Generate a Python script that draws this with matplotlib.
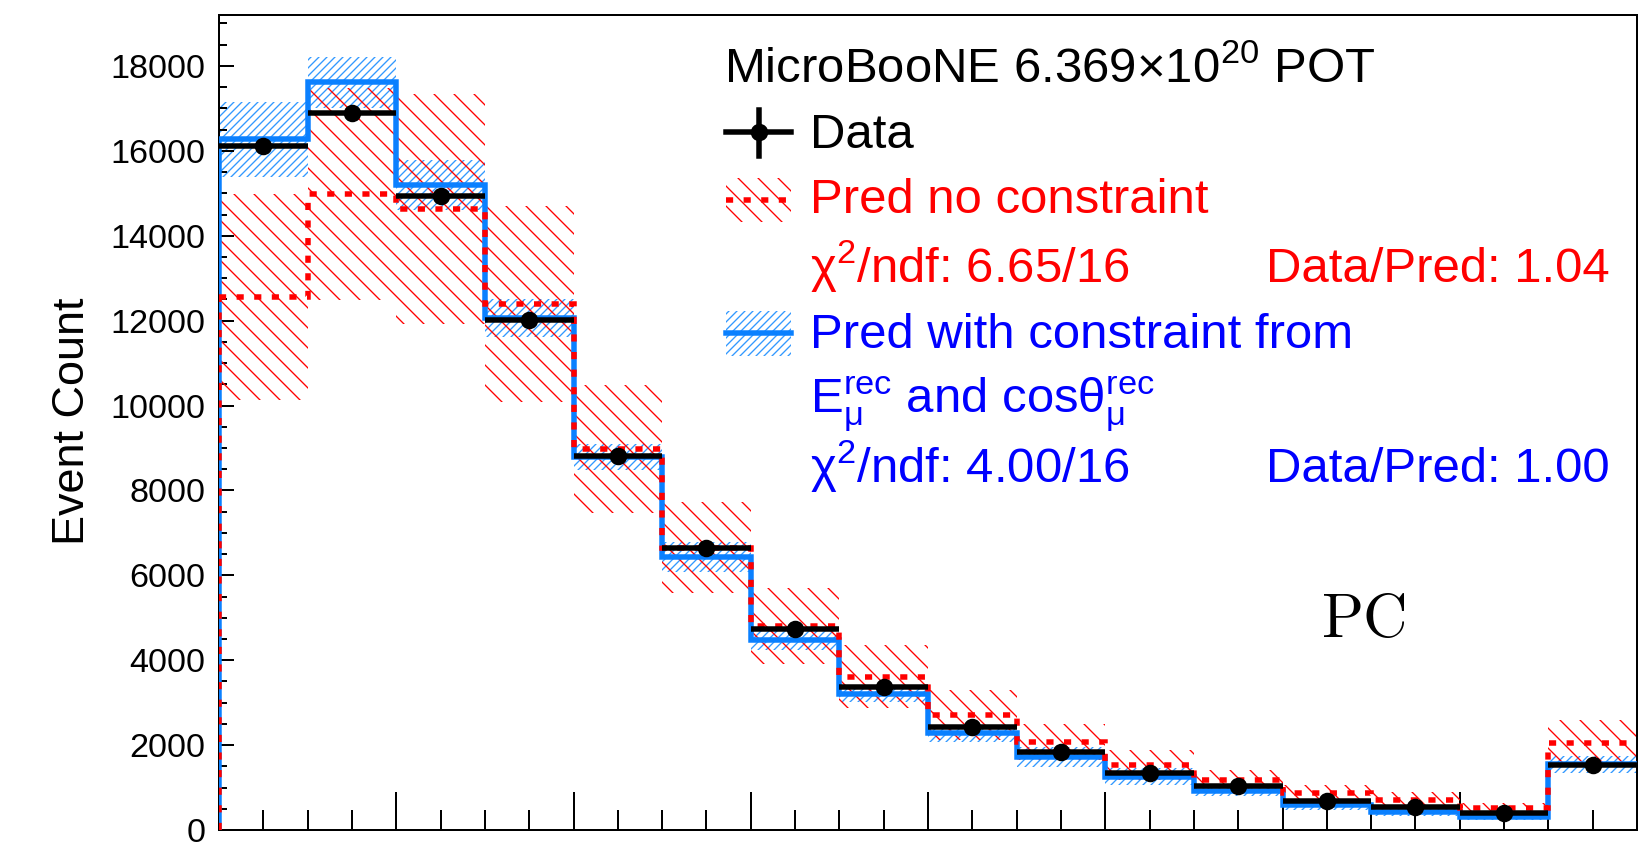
import numpy as np
import matplotlib
matplotlib.use('Agg')
import matplotlib.pyplot as plt
from matplotlib.lines import Line2D
from matplotlib.patches import Rectangle
from matplotlib.ticker import MultipleLocator

# ---------------- data (16 bins) ----------------
bin_edges = list(range(17))
data = [16120, 16880, 14930, 12020, 8800, 6650, 4745, 3375, 2435, 1845, 1350, 1030, 690, 550, 410, 1530]
data_err = [127, 130, 122, 110, 94, 82, 69, 58, 49, 43, 37, 32, 26, 23, 20, 39]
pred_nocon = [12550, 14980, 14630, 12390, 8980, 6650, 4800, 3610, 2706, 2078, 1529, 1176, 863, 706, 510, 2055]
pred_nocon_err = [2430, 2500, 2700, 2310, 1510, 1070, 890, 745, 590, 430, 350, 236, 196, 196, 117, 530]
pred_con = [16275, 17610, 15200, 12060, 8790, 6430, 4470, 3215, 2275, 1725, 1255, 920, 590, 430, 315, 1550]
pred_con_err = [880, 610, 590, 450, 310, 350, 240, 200, 200, 235, 200, 125, 120, 110, 90, 200]
yticks = [0, 2000, 4000, 6000, 8000, 10000, 12000, 14000, 16000, 18000]

# ---------------- style ----------------
plt.rcParams['font.family'] = ['Liberation Sans', 'DejaVu Sans']
plt.rcParams['mathtext.fontset'] = 'custom'
plt.rcParams['mathtext.rm'] = 'Liberation Sans'
plt.rcParams['mathtext.it'] = 'Liberation Sans:italic'
plt.rcParams['mathtext.default'] = 'regular'
plt.rcParams['hatch.linewidth'] = 0.8

RED = '#ff0000'
BLUE_LINE = '#0a80ff'
BLUE_HATCH = '#3399ff'
BLUE_TEXT = '#0000ff'

W, H, DPI = 1650, 843, 120
fig = plt.figure(figsize=(W / DPI, H / DPI), dpi=DPI)
ax = fig.add_axes([219 / W, 1 - 830 / H, (1637 - 219) / W, (830 - 15) / H])


def fx(px):
    return px / W


def fy(py):
    return 1 - py / H


edges = np.array(bin_edges, dtype=float)
centers = 0.5 * (edges[:-1] + edges[1:])
widths = np.diff(edges)
d = np.array(data, float)
pn = np.array(pred_nocon, float)
pne = np.array(pred_nocon_err, float)
pc = np.array(pred_con, float)
pce = np.array(pred_con_err, float)

LW = 3.3
MS = 9.5
DASH = (0, (1.3, 1.9))

# uncertainty bands
ax.bar(centers, 2 * pce, bottom=pc - pce, width=widths, fill=False,
       hatch='/////', edgecolor=BLUE_HATCH, linewidth=0, zorder=1)
ax.bar(centers, 2 * pne, bottom=pn - pne, width=widths, fill=False,
       hatch='\\\\', edgecolor=RED, linewidth=0, zorder=2)

# prediction histograms (open on the right, rising from 0 on the left)
ax.stairs(pc, edges, baseline=None, color=BLUE_LINE, lw=LW, zorder=3)
ax.vlines(edges[0], 0, pc[0], color=BLUE_LINE, lw=LW, zorder=3)
ax.stairs(pn, edges, baseline=None, color=RED, lw=LW, ls=DASH, zorder=4)
ax.vlines(edges[0], 0, pn[0], color=RED, lw=LW, linestyles=[DASH], zorder=4)

# data
ax.errorbar(centers, d, xerr=widths / 2, yerr=data_err, fmt='o', color='black',
            ms=MS, elinewidth=LW, capsize=0, zorder=5)

ax.set_xlim(edges[0], edges[-1])
ax.set_ylim(0, 19200)
ax.xaxis.set_major_locator(MultipleLocator(2))
ax.xaxis.set_minor_locator(MultipleLocator(0.5))
ax.set_yticks(yticks)
ax.set_yticklabels([str(v) for v in yticks])
ax.yaxis.set_minor_locator(MultipleLocator(500))
ax.tick_params(axis='x', which='major', direction='in', length=22.8, width=1.2,
               labelbottom=False, top=False)
ax.tick_params(axis='x', which='minor', direction='in', length=12, width=1.2, top=False)
ax.tick_params(axis='y', which='major', direction='in', length=9, width=1.2,
               labelsize=20.5, pad=8, right=False)
ax.tick_params(axis='y', which='minor', direction='in', length=4.8, width=1.2, right=False)
for s in ax.spines.values():
    s.set_linewidth(1.2)

fig.text(fx(72), fy(421), 'Event Count', rotation=90, ha='center', va='center', fontsize=27)

# ---------------- legend (manual, ROOT style) ----------------
FS = 29.5
fig.text(fx(724), fy(82), r'MicroBooNE 6.369$\times$10$^{20}$ POT', fontsize=FS, va='baseline')

# Data entry
fig.add_artist(Line2D([fx(726), fx(791)], [fy(132), fy(132)], color='black', lw=LW,
                      transform=fig.transFigure))
fig.add_artist(Line2D([fx(758.5), fx(758.5)], [fy(110), fy(156)], color='black', lw=LW,
                      transform=fig.transFigure))
fig.add_artist(Line2D([fx(758.5)], [fy(132)], marker='o', ms=MS, color='black',
                      transform=fig.transFigure))
fig.text(fx(810), fy(148), 'Data', fontsize=FS, va='baseline')

# No constraint entry
fig.add_artist(Rectangle((fx(726), fy(222)), fx(791) - fx(726), fy(178) - fy(222),
                         fill=False, hatch='\\\\', edgecolor=RED, linewidth=0,
                         transform=fig.transFigure))
fig.add_artist(Line2D([fx(726), fx(791)], [fy(200), fy(200)], color=RED, lw=LW,
                      ls=DASH, transform=fig.transFigure))
fig.text(fx(810), fy(213), 'Pred no constraint', fontsize=FS, va='baseline', color=RED)
fig.text(fx(810), fy(282), r'χ$^{2}$/ndf: 6.65/16', fontsize=FS, va='baseline', color=RED)
fig.text(fx(1610), fy(282), 'Data/Pred: 1.04', fontsize=FS, va='baseline', ha='right', color=RED)

# Constrained entry
fig.add_artist(Rectangle((fx(726), fy(356)), fx(791) - fx(726), fy(311) - fy(356),
                         fill=False, hatch='/////', edgecolor=BLUE_HATCH, linewidth=0,
                         transform=fig.transFigure))
fig.add_artist(Line2D([fx(726), fx(791)], [fy(333), fy(333)], color=BLUE_LINE, lw=LW,
                      transform=fig.transFigure))
fig.text(fx(810), fy(348), 'Pred with constraint from', fontsize=FS, va='baseline', color=BLUE_TEXT)
fig.text(fx(810), fy(413), r'E$_{\mu}^{rec}$ and cos$\theta_{\mu}^{rec}$', fontsize=FS,
         va='baseline', color=BLUE_TEXT)
fig.text(fx(810), fy(482), r'χ$^{2}$/ndf: 4.00/16', fontsize=FS, va='baseline', color=BLUE_TEXT)
fig.text(fx(1610), fy(482), 'Data/Pred: 1.00', fontsize=FS, va='baseline', ha='right', color=BLUE_TEXT)

# PC label
fig.text(fx(1363), fy(621), r'$\mathrm{PC}$', fontsize=37, ha='center', va='center',
         math_fontfamily='cm')

fig.savefig('out.png', dpi=DPI)
